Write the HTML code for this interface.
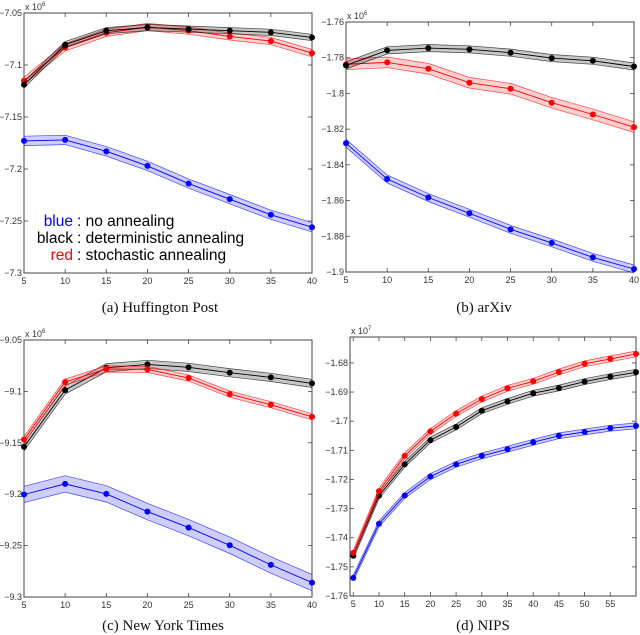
<!DOCTYPE html>
<html><head><meta charset="utf-8"><style>
html,body{margin:0;padding:0;background:#fff;}
svg{display:block;}
text{font-family:"Liberation Sans",sans-serif;}
.tick{font-size:9px;fill:#333;}
.cap{font-family:"Liberation Serif",serif;font-size:15px;fill:#111;}
.leg{font-size:15.5px;}
</style></head><body>
<svg id="fig" width="640" height="635" viewBox="0 0 640 635" xmlns="http://www.w3.org/2000/svg">
<g id="legend">
<text class="leg" x="73" y="226" text-anchor="end" fill="#0000ff">blue</text>
<text class="leg" x="77" y="226" fill="#000">: no annealing</text>
<text class="leg" x="73" y="243" text-anchor="end" fill="#000">black</text>
<text class="leg" x="77" y="243" fill="#000">: deterministic annealing</text>
<text class="leg" x="73" y="260" text-anchor="end" fill="#ff0000">red</text>
<text class="leg" x="77" y="260" fill="#000">: stochastic annealing</text>
</g>
</svg>
<script>
// Panel (a) Huffington Post
const xA = [5,10,15,20,25,30,35,40];
const blackA = [-7.119,-7.0805,-7.067,-7.064,-7.0655,-7.067,-7.0686,-7.0735];
const redA = [-7.115,-7.083,-7.069,-7.0635,-7.067,-7.0725,-7.077,-7.0886];
const blueA = [-7.173,-7.172,-7.183,-7.197,-7.214,-7.229,-7.244,-7.256];
const yTicksA = [-7.05,-7.1,-7.15,-7.2,-7.25,-7.3];
const yLabelsA = ["-7.05","-7.1","-7.15","-7.2","-7.25","-7.3"];
// Panel (b) arXiv
const xB = [5,10,15,20,25,30,35,40];
const blackB = [-1.7843,-1.7759,-1.7746,-1.7753,-1.7772,-1.7802,-1.7817,-1.7849];
const redB = [-1.7837,-1.7826,-1.7862,-1.794,-1.7974,-1.8052,-1.8118,-1.8189];
const blueB = [-1.8279,-1.8479,-1.8583,-1.8671,-1.8761,-1.8837,-1.8918,-1.8983];
const yTicksB = [-1.76,-1.78,-1.8,-1.82,-1.84,-1.86,-1.88,-1.9];
const yLabelsB = ["-1.76","-1.78","-1.8","-1.82","-1.84","-1.86","-1.88","-1.9"];
// Panel (c) New York Times
const xC = [5,10,15,20,25,30,35,40];
const blackC = [-9.1539,-9.0987,-9.077,-9.0737,-9.0766,-9.0818,-9.0864,-9.0922];
const redC = [-9.1468,-9.0909,-9.0782,-9.0786,-9.087,-9.1026,-9.113,-9.1247];
const blueC = [-9.2003,-9.19,-9.1997,-9.2169,-9.2325,-9.2497,-9.2688,-9.286];
const yTicksC = [-9.05,-9.1,-9.15,-9.2,-9.25,-9.3];
const yLabelsC = ["-9.05","-9.1","-9.15","-9.2","-9.25","-9.3"];
// Panel (d) NIPS
const xD = [5,10,15,20,25,30,35,40,45,50,55,60];
const redD = [-1.7452,-1.724,-1.7119,-1.7035,-1.6974,-1.6924,-1.6887,-1.6863,-1.6831,-1.6803,-1.6786,-1.6769];
const blackD = [-1.7462,-1.7256,-1.7148,-1.7065,-1.702,-1.6964,-1.6932,-1.6904,-1.6886,-1.6864,-1.6847,-1.6832];
const blueD = [-1.7538,-1.7352,-1.7255,-1.719,-1.7148,-1.7119,-1.7096,-1.7072,-1.705,-1.7037,-1.7024,-1.7016];
const yTicksD = [-1.68,-1.69,-1.7,-1.71,-1.72,-1.73,-1.74,-1.75,-1.76];
const yLabelsD = ["-1.68","-1.69","-1.7","-1.71","-1.72","-1.73","-1.74","-1.75","-1.76"];
const xTicks8 = [5,10,15,20,25,30,35,40];
const xTicksD = [5,10,15,20,25,30,35,40,45,50,55];

const NS = "http://www.w3.org/2000/svg";
const svg = document.getElementById('fig');
function mk(tag, attrs, parent){const e=document.createElementNS(NS,tag);for(const k in attrs)e.setAttribute(k,attrs[k]);(parent||svg).appendChild(e);return e;}

function panel(cfg){
  const g = mk('g',{});
  
  
  const {L,R,T,B,xmin,xmax,ymin,ymax} = cfg;
  const sx = v => L + (v-xmin)/(xmax-xmin)*(R-L);
  const sy = v => B - (v-ymin)/(ymax-ymin)*(B-T);
  const frame = mk('rect',{x:L,y:T,width:R-L,height:B-T,fill:'none',stroke:'#444','stroke-width':1},g);
  
  
  cfg.xt.forEach(v=>{
    const x=sx(v);
    mk('line',{x1:x,x2:x,y1:B,y2:B-4,stroke:'#444','stroke-width':0.8},g);
    mk('line',{x1:x,x2:x,y1:T,y2:T+4,stroke:'#444','stroke-width':0.8},g);
    const t=mk('text',{x:x,y:B+11,'text-anchor':'middle',class:'tick'},g);
    t.textContent=v;
    
    
  });
  cfg.yt.forEach((v,i)=>{
    const y=sy(v);
    mk('line',{x1:L,x2:L+4,y1:y,y2:y,stroke:'#444','stroke-width':0.8},g);
    mk('line',{x1:R,x2:R-4,y1:y,y2:y,stroke:'#444','stroke-width':0.8},g);
    const t=mk('text',{x:L-2,y:y+3,'text-anchor':'end',class:'tick'},g);
    t.textContent=cfg.yl[i].replace('-','\u2212');
    
    
  });
  const ex=mk('text',{x:L+1,y:T-3,class:'tick'},g);
  ex.textContent='x 10';
  const sup=mk('tspan',{dy:-4,'font-size':'6px'},ex);
  sup.textContent=cfg.exp;
  
  
  cfg.series.forEach(s=>{
    const sg=mk('g',{},g);
    
    
    const up=cfg.xs.map((x,i)=>[sx(x),sy(s.v[i]+s.w)]);
    const dn=cfg.xs.map((x,i)=>[sx(x),sy(s.v[i]-s.w)]);
    const pts=a=>a.map(p=>p[0].toFixed(1)+','+p[1].toFixed(1)).join(' ');
    const band=mk('polygon',{points:pts(up)+' '+pts(dn.slice().reverse()),fill:s.fill,stroke:'none'},sg);
    
    
    mk('polyline',{points:pts(up),fill:'none',stroke:s.c,'stroke-width':0.7,opacity:0.7},sg);
    mk('polyline',{points:pts(dn),fill:'none',stroke:s.c,'stroke-width':0.7,opacity:0.7},sg);
    const line=mk('polyline',{points:pts(cfg.xs.map((x,i)=>[sx(x),sy(s.v[i])])),fill:'none',stroke:s.c,'stroke-width':0.9},sg);
    
    
    cfg.xs.forEach((x,i)=>{
      const c=mk('circle',{cx:sx(x),cy:sy(s.v[i]),r:3,fill:s.c},sg);
      
      
    });
  });
  const cap=mk('text',{x:cfg.capX,y:cfg.capY,'text-anchor':'middle',class:'cap'},g);
  cap.textContent=cfg.cap;
  
  
}
const BL={c:'#0000ff',fill:'rgba(90,90,255,0.3)'}, BK={c:'#000',fill:'rgba(0,0,0,0.22)'}, RD={c:'#ff0000',fill:'rgba(255,60,60,0.25)'};
panel({name:'panel-huffington-post',L:24,R:312,T:13,B:273,xmin:5,xmax:40,ymin:-7.3,ymax:-7.05,xs:xA,xt:xTicks8,yt:yTicksA,yl:yLabelsA,exp:'6',
  series:[{name:'series-blue',v:blueA,w:0.0045,...BL},{name:'series-red',v:redA,w:0.0035,...RD},{name:'series-black',v:blackA,w:0.003,...BK}],cap:'(a)  Huffington Post',capX:160,capY:312});
panel({name:'panel-arxiv',L:346,R:634,T:22,B:272,xmin:5,xmax:40,ymin:-1.9,ymax:-1.76,xs:xB,xt:xTicks8,yt:yTicksB,yl:yLabelsB,exp:'6',
  series:[{name:'series-blue',v:blueB,w:0.0022,...BL},{name:'series-red',v:redB,w:0.003,...RD},{name:'series-black',v:blackB,w:0.002,...BK}],cap:'(b)  arXiv',capX:484,capY:312});
panel({name:'panel-new-york-times',L:24,R:312,T:340,B:597,xmin:5,xmax:40,ymin:-9.3,ymax:-9.05,xs:xC,xt:xTicks8,yt:yTicksC,yl:yLabelsC,exp:'6',
  series:[{name:'series-blue',v:blueC,w:0.008,...BL},{name:'series-black',v:blackC,w:0.004,...BK},{name:'series-red',v:redC,w:0.003,...RD}],cap:'(c)  New York Times',capX:163,capY:630});
panel({name:'panel-nips',L:350,R:636,T:337,B:596,xmin:4.36,xmax:60,ymin:-1.76,ymax:-1.6711,xs:xD,xt:xTicksD,yt:yTicksD,yl:yLabelsD,exp:'7',
  series:[{name:'series-blue',v:blueD,w:0.001,...BL},{name:'series-black',v:blackD,w:0.001,...BK},{name:'series-red',v:redD,w:0.001,...RD}],cap:'(d)  NIPS',capX:483,capY:630});
svg.appendChild(document.getElementById('legend'));
</script>
</body></html>
